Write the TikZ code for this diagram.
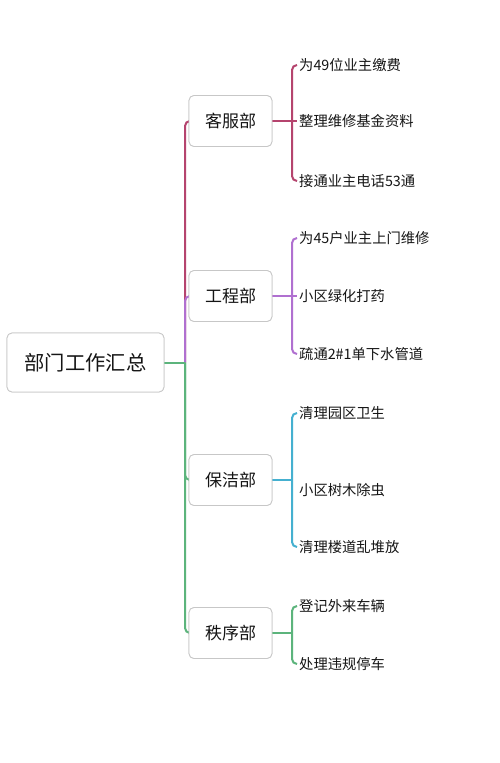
\documentclass[tikz,border=0pt]{standalone}
\usepackage{fontspec}
\setmainfont{Noto Sans CJK SC}
\definecolor{cred}{HTML}{B5446E}
\definecolor{cpur}{HTML}{B070D0}
\definecolor{cblue}{HTML}{45B0D0}
\definecolor{cgreen}{HTML}{5CB47C}
\definecolor{ctext}{HTML}{151515}
\begin{document}
\begin{tikzpicture}[x=1pt,y=-1pt,
  rootbox/.style={draw=black!22,fill=white,rounded corners=5pt,line width=0.8pt,minimum width=157pt,minimum height=59pt,font=\fontsize{20.3}{24}\selectfont,text=ctext,inner sep=0pt},
  deptbox/.style={draw=black!22,fill=white,rounded corners=5pt,line width=0.8pt,minimum width=83pt,minimum height=51pt,font=\fontsize{17}{20}\selectfont,text=ctext,inner sep=0pt},
  leaf/.style={anchor=west,inner sep=2pt,font=\fontsize{14.3}{17}\selectfont,text=ctext},
  conn/.style={line width=2pt,rounded corners=5pt}]
\useasboundingbox (0,0) rectangle (500,763);
\fill[white] (0,0) rectangle (500,763);

\node[rootbox] (root) at (85.5,362.5) {部门工作汇总};
\node[deptbox] (kf) at (230.5,121) {客服部};
\node[deptbox] (gc) at (230.5,296) {工程部};
\node[deptbox] (bj) at (230.5,480) {保洁部};
\node[deptbox] (zx) at (230.5,633) {秩序部};

\node[leaf] (k1) at (297,65) {为49位业主缴费};
\node[leaf] (k2) at (297,121) {整理维修基金资料};
\node[leaf] (k3) at (297,181) {接通业主电话53通};
\node[leaf] (g1) at (297,238) {为45户业主上门维修};
\node[leaf] (g2) at (297,296) {小区绿化打药};
\node[leaf] (g3) at (297,354) {疏通2\#1单下水管道};
\node[leaf] (b1) at (297,413) {清理园区卫生};
\node[leaf] (b2) at (297,490) {小区树木除虫};
\node[leaf] (b3) at (297,547) {清理楼道乱堆放};
\node[leaf] (z1) at (297,606) {登记外来车辆};
\node[leaf] (z2) at (297,664) {处理违规停车};

\coordinate (tj) at (185,362.5);
\coordinate (jk) at (292,121);
\coordinate (jg) at (292,296);
\coordinate (jb) at (292,480);
\coordinate (jz) at (292,633);

% trunk
\draw[conn,cred] (tj) |- (kf.west);
\draw[conn,cpur] (tj) |- (gc.west);
\draw[conn,cgreen] (tj) |- (zx.west);
\draw[conn,cgreen] (tj) |- (bj.west);
\draw[conn,cgreen,rounded corners=0pt] (root.east) -- (tj);

% 客服部
\draw[conn,cred,rounded corners=0pt] (kf.east) -- (jk) -- (k2.west);
\draw[conn,cred] (k1.west) -- (jk |- k1.west) -- (jk |- k3.west) -- (k3.west);
% 工程部
\draw[conn,cpur,rounded corners=0pt] (gc.east) -- (jg) -- (g2.west);
\draw[conn,cpur] (g1.west) -- (jg |- g1.west) -- (jg |- g3.west) -- (g3.west);
% 保洁部
\draw[conn,cblue,rounded corners=0pt] (bj.east) -- (jb);
\draw[conn,cblue] (b1.west) -- (jb |- b1.west) -- (jb |- b3.west) -- (b3.west);
% 秩序部
\draw[conn,cgreen,rounded corners=0pt] (zx.east) -- (jz);
\draw[conn,cgreen] (z1.west) -- (jz |- z1.west) -- (jz |- z2.west) -- (z2.west);

% boxes on top of connectors
\node[rootbox] at (root) {部门工作汇总};
\node[deptbox] at (kf) {客服部};
\node[deptbox] at (gc) {工程部};
\node[deptbox] at (bj) {保洁部};
\node[deptbox] at (zx) {秩序部};
\end{tikzpicture}
\end{document}
